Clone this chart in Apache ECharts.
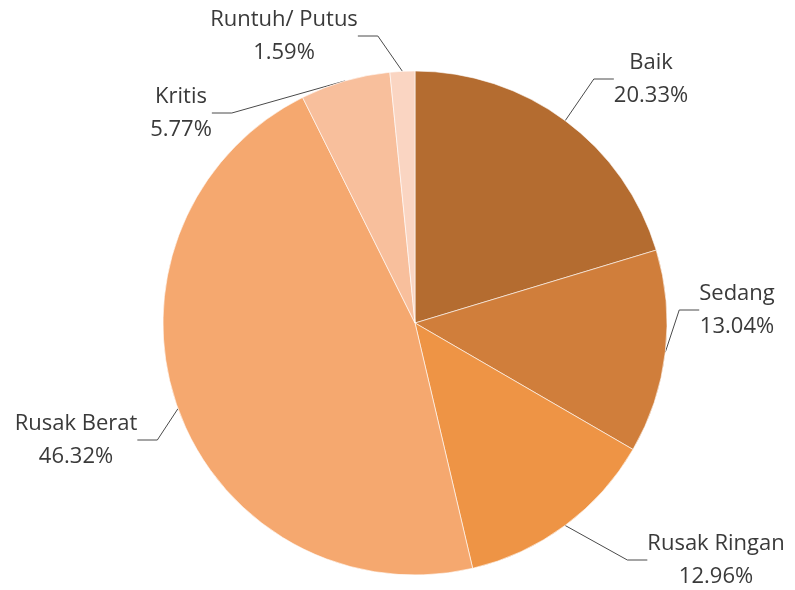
<!DOCTYPE html>
<html>
<head>
<meta charset="utf-8">
<script src="https://cdn.jsdelivr.net/npm/echarts@6/dist/echarts.min.js"></script>
<style>html,body{margin:0;padding:0;background:#fff}#c{width:795px;height:590px}</style>
</head>
<body>
<div id="c"></div>
<script>
const categories = ['Baik', 'Sedang', 'Rusak Ringan', 'Rusak Berat', 'Kritis', 'Runtuh/ Putus'];
const values = [20.33, 13.04, 12.96, 46.32, 5.77, 1.59];
const colors = ['#B46C30', '#D07E3B', '#EE9445', '#F5A86F', '#F8BF9C', '#FAD5C2'];
const labelPos = [[651, 79], [737, 310], [716, 560], [76, 440], [181, 113], [284, 36]];

const chart = echarts.init(document.getElementById('c'));
chart.setOption({
  animation: false,
  series: [{
    type: 'pie',
    center: [415, 323],
    radius: 252,
    startAngle: 90,
    clockwise: true,
    data: categories.map((n, i) => ({ name: n, value: values[i], itemStyle: { color: colors[i] } })),
    itemStyle: { borderColor: '#ffffff', borderWidth: 0.6 },
    label: {
      formatter: p => p.name + '\n' + p.value.toFixed(2) + '%',
      fontFamily: '"Open Sans", sans-serif',
      fontSize: 22,
      lineHeight: 33,
      color: '#3a3a3a',
      align: 'center',
      overflow: 'none'
    },
    labelLine: { show: true, length: 20, length2: 20, lineStyle: { color: '#4a4a4a', width: 1 } },
    labelLayout: p => ({ x: labelPos[p.dataIndex][0], y: labelPos[p.dataIndex][1], align: 'center', verticalAlign: 'middle' })
  }]
});
</script>
</body>
</html>
